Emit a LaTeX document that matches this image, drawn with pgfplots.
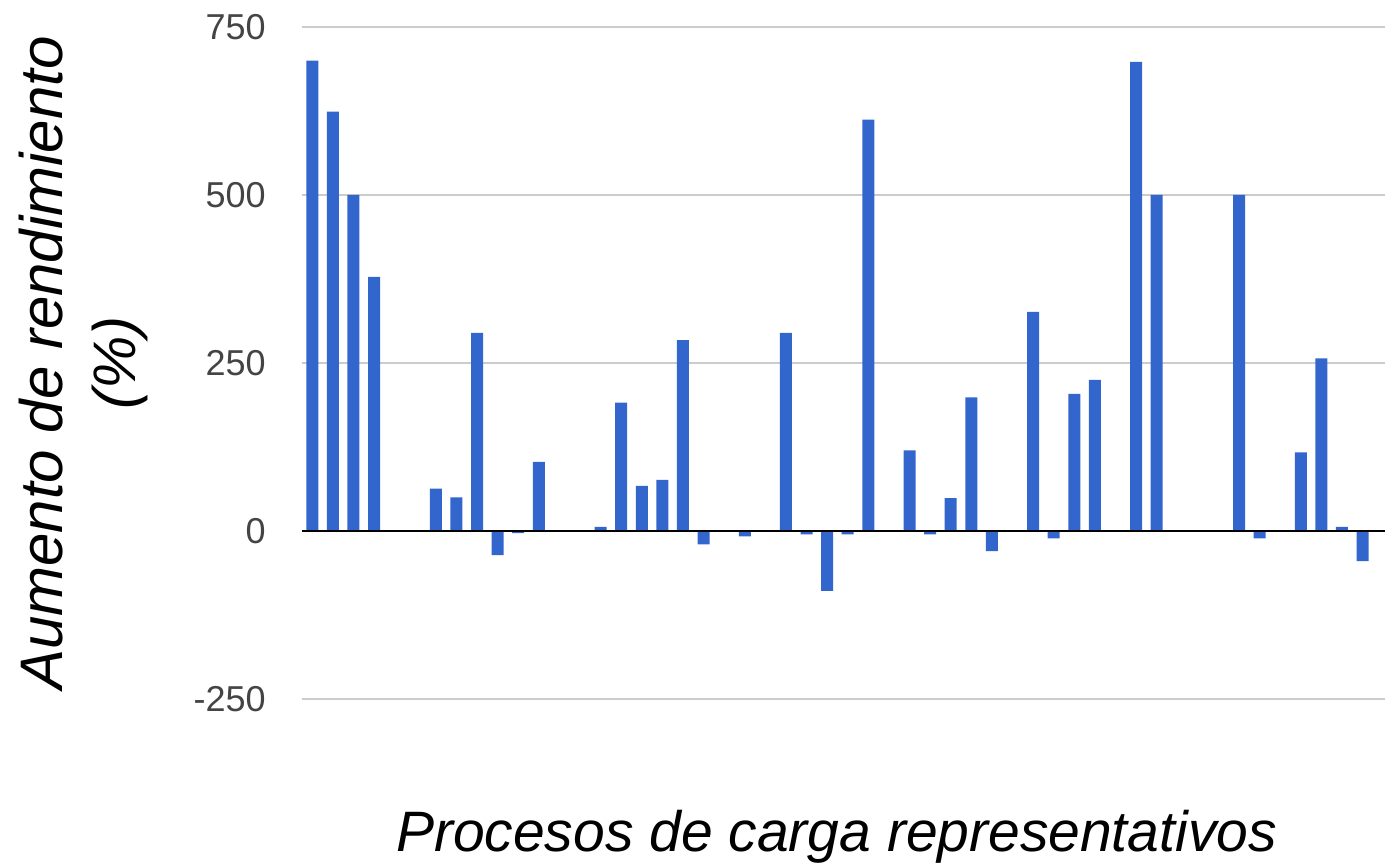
\documentclass[border=0pt]{standalone}
\usepackage{fontspec}
\setmainfont{Liberation Sans}
\usepackage{pgfplots}
\usepackage{pgfplotstable}
\pgfplotsset{compat=1.18}
\usetikzlibrary{calc}
\definecolor{barblue}{HTML}{3366CC}
\definecolor{gridgray}{HTML}{CCCCCC}
\definecolor{tickgray}{HTML}{444444}
\pgfplotstableread{
x y
0 700
1 624
2 500
3 378
6 63
7 50
8 295
9 -36
10 -3
11 103
14 6
15 191
16 67
17 76
18 284
19 -20
21 -8
23 295
24 -5
25 -89
26 -5
27 612
29 120
30 -5
31 49
32 199
33 -30
35 326
36 -11
37 204
38 225
40 698
41 500
45 500
46 -11
48 117
49 257
50 6
51 -45
}\datatable
\begin{document}
\begin{tikzpicture}
\begin{axis}[
 scale only axis, width=541.5pt, height=336pt,
 xmin=-0.5, xmax=52.09, ymin=-250, ymax=750,
 axis line style={draw=none},
 xtick=\empty,
 ytick={-250,0,250,500,750},
 ymajorgrids, grid style={gridgray, line width=1pt},
 tick style={draw=none},
 yticklabel style={font=\fontsize{18}{20}\selectfont, text=tickgray, inner sep=0pt, anchor=east, xshift=-18pt},
 /pgf/number format/assume math mode=true,
 ylabel={Aumento de rendimiento\\(\%)},
 ylabel style={at={(axis description cs:-0.1422,0.5)}, anchor=south, align=center, font=\itshape\fontsize{30}{36.5}\selectfont, inner sep=0pt},
 xlabel={Procesos de carga representativos},
 xlabel style={at={(axis description cs:0.4935,0)}, anchor=base, yshift=-76.35pt, font=\itshape\fontsize{28.5}{34}\selectfont, inner sep=0pt},
]
\addplot[ybar, bar width=6pt, fill=barblue, draw=none] table[x=x,y=y]{\datatable};
\draw[black, line width=1.2pt] (axis cs:-0.5,0) -- (axis cs:52.09,0);
\end{axis}
\pgfresetboundingbox
\path[use as bounding box] ($(current axis.south west)+(-151pt,-81.5pt)$) rectangle ($(current axis.north east)+(0pt,13.5pt)$);
\end{tikzpicture}
\end{document}
